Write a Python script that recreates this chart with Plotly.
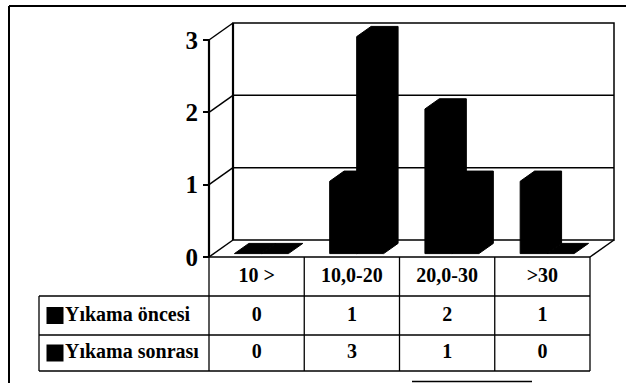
import plotly.graph_objects as go

# ---- data -------------------------------------------------------------
categories = ["10 >", "10,0-20", "20,0-30", ">30"]
series_names = ["Yıkama öncesi", "Yıkama sonrası"]
before_wash = [0, 1, 2, 1]
after_wash = [0, 3, 1, 0]
y_ticks = [0, 1, 2, 3]

# ---- geometry of the pseudo-3D frame (data units) ---------------------
W, H = 626, 383
PX_X, PX_Y = 95.25, 72.33          # pixels per category / per value unit
AXIS_PX_X, ZERO_PX_Y = 209, 257     # pixel position of the front axis / zero
DX, DY = 24 / PX_X, 17 / PX_Y       # depth offset of the back wall
D0, D1 = 0.2, 0.8                   # depth span of the columns
BW = 27 / PX_X                      # front width of one column
YMAX = 3
X_LEFT, X_RIGHT = -0.5, len(categories) - 0.5
ROW1, ROW2, ROW3 = -39 / PX_Y, -78 / PX_Y, -114 / PX_Y   # table row lines
LEG_LEFT = X_LEFT - (AXIS_PX_X - 39) / PX_X

x_range = [X_LEFT - AXIS_PX_X / PX_X, X_LEFT + (W - AXIS_PX_X) / PX_X]
y_range = [-(H - ZERO_PX_Y) / PX_Y, ZERO_PX_Y / PX_Y]

FONT = "Liberation Serif"
fig = go.Figure()


def add_lines(segments, width=1.5):
    xs, ys = [], []
    for seg in segments:
        for (x, y) in seg:
            xs.append(x)
            ys.append(y)
        xs.append(None)
        ys.append(None)
    fig.add_trace(go.Scatter(x=xs, y=ys, mode="lines",
                             line=dict(color="black", width=width),
                             hoverinfo="skip", showlegend=False))


# back wall, its gridlines, left wall diagonals and the floor
bx0, bx1 = X_LEFT + DX, X_RIGHT + DX
wall = [[(bx0, DY), (bx1, DY), (bx1, YMAX + DY), (bx0, YMAX + DY), (bx0, DY)]]
wall += [[(bx0, v + DY), (bx1, v + DY)] for v in y_ticks[1:-1]]
wall += [[(X_LEFT, v), (X_LEFT + DX, v + DY)] for v in y_ticks]
wall += [[(X_RIGHT, 0), (X_RIGHT + DX, DY)]]
add_lines(wall, 1.5)
add_lines([[(X_LEFT, 0), (X_LEFT, YMAX)], [(bx0, DY), (bx0, YMAX + DY)]], 2.2)

# columns: each drawn as the silhouette of a box
sx, sy = DX * (D1 - D0), DY * (D1 - D0)
for s, values in enumerate([before_wash, after_wash]):
    xs, ys = [], []
    for c, v in enumerate(values):
        xl = c - BW + s * BW + DX * D0
        xr = xl + BW
        yb = DY * D0
        yt = v + yb
        pts = [(xl, yb), (xr, yb), (xr + sx, yb + sy), (xr + sx, yt + sy),
               (xl + sx, yt + sy), (xl, yt), (xl, yb)]
        for (px, py) in pts:
            xs.append(px)
            ys.append(py)
        xs.append(None)
        ys.append(None)
    fig.add_trace(go.Scatter(x=xs, y=ys, mode="lines", fill="toself",
                             fillcolor="black", name=series_names[s],
                             line=dict(color="black", width=1),
                             hoverinfo="skip", showlegend=False))

# data table grid
grid = [[(X_LEFT, 0), (X_RIGHT, 0)]]
grid += [[(LEG_LEFT, r), (X_RIGHT, r)] for r in (ROW1, ROW2, ROW3)]
grid += [[(c + 0.5, 0), (c + 0.5, ROW3)] for c in range(-1, len(categories))]
grid += [[(LEG_LEFT, ROW1), (LEG_LEFT, ROW3)]]
add_lines(grid, 1.3)

tfont = dict(family=FONT, size=20, color="black", weight="bold")
row_y = [ROW1 / 2, (ROW1 + ROW2) / 2, (ROW2 + ROW3) / 2]
fig.add_trace(go.Scatter(x=list(range(len(categories))), y=[row_y[0]] * 4,
                         mode="text", text=categories, textfont=tfont,
                         hoverinfo="skip", showlegend=False))
for r, values in enumerate([before_wash, after_wash]):
    fig.add_trace(go.Scatter(x=list(range(len(values))), y=[row_y[r + 1]] * 4,
                             mode="text", text=[str(v) for v in values],
                             textfont=tfont, hoverinfo="skip", showlegend=False))

# legend keys inside the table
key_x = LEG_LEFT + 16 / PX_X
fig.add_trace(go.Scatter(x=[key_x, key_x], y=row_y[1:], mode="markers",
                         marker=dict(symbol="square", size=17, color="black"),
                         hoverinfo="skip", showlegend=False))
fig.add_trace(go.Scatter(x=[LEG_LEFT + 26 / PX_X] * 2, y=row_y[1:], mode="text",
                         text=series_names, textposition="middle right",
                         textfont=tfont, hoverinfo="skip", showlegend=False))

fig.update_layout(
    width=W, height=H,
    margin=dict(l=0, r=0, t=0, b=0),
    paper_bgcolor="white", plot_bgcolor="white",
    hovermode=False,
    xaxis=dict(range=x_range, visible=False, domain=[0, 1]),
    yaxis=dict(range=y_range, anchor="free", position=AXIS_PX_X / W,
               tickvals=y_ticks, ticktext=[str(v) for v in y_ticks],
               ticks="outside", ticklen=6, tickwidth=1.5, tickcolor="black",
               tickfont=dict(family=FONT, size=25, color="black", weight="bold"),
               showgrid=False, zeroline=False, showline=False),
    shapes=[
        dict(type="line", xref="paper", yref="paper", x0=9 / W, x1=1,
             y0=1 - 6 / H, y1=1 - 6 / H, line=dict(color="black", width=2)),
        dict(type="line", xref="paper", yref="paper", x0=9 / W, x1=9 / W,
             y0=0, y1=1 - 6 / H, line=dict(color="black", width=2)),
        dict(type="line", xref="paper", yref="paper", x0=412 / W, x1=532 / W,
             y0=1.5 / H, y1=1.5 / H, line=dict(color="black", width=1.5)),
    ],
)

fig.write_html("out.html")
